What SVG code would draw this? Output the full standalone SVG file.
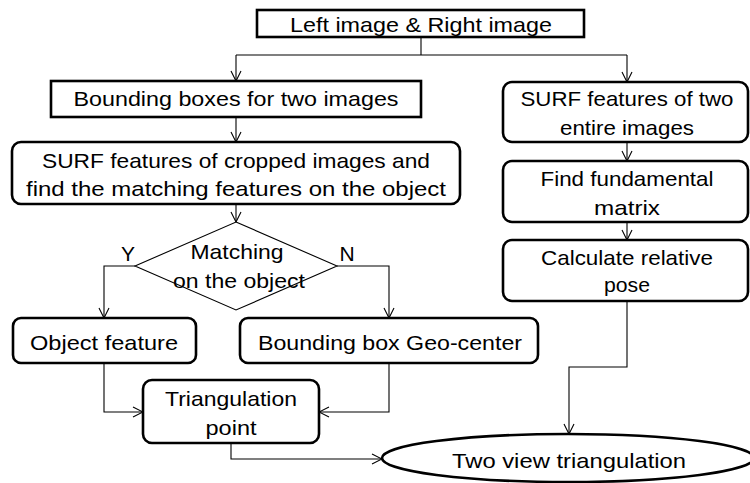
<svg xmlns="http://www.w3.org/2000/svg" width="750" height="483" viewBox="0 0 750 483">
  <defs>
    <marker id="arrow" viewBox="0 0 12 12" refX="11" refY="6" markerWidth="12" markerHeight="12" markerUnits="userSpaceOnUse" orient="auto">
      <path d="M1,1 L11,6 L1,11" fill="none" stroke="#000" stroke-width="1.1"/>
    </marker>
    <style>
      .box { fill: #fff; stroke: #000; stroke-width: 2.6; }
      .edge { fill: none; stroke: #000; stroke-width: 1.1; }
      .arr { marker-end: url(#arrow); }
      text { font-family: "Liberation Sans", Arial, sans-serif; font-size: 21px; fill: #000; text-anchor: middle; }
    </style>
  </defs>

  <!-- connectors -->
  <g id="connectors">
    <path class="edge" d="M421,37 V55 M236,55 H627"/>
    <path class="edge arr" d="M236,55 V81"/>
    <path class="edge arr" d="M627,55 V82"/>
    <path class="edge arr" d="M236,117 V142"/>
    <path class="edge arr" d="M236,204 V222"/>
    <path class="edge arr" d="M135,266 H104 V318"/>
    <path class="edge arr" d="M337,266 H389 V318"/>
    <path class="edge arr" d="M104,363 V412 H143"/>
    <path class="edge arr" d="M389,363 V412 H319"/>
    <path class="edge arr" d="M231,443 V459 H382"/>
    <path class="edge arr" d="M627,142 V161"/>
    <path class="edge arr" d="M627,222 V240"/>
    <path class="edge arr" d="M627,301 V367 H569 V434"/>
  </g>

  <g id="input">
    <rect class="box" x="257" y="10" width="327" height="27"/>
    <text x="421" y="32" textLength="262" lengthAdjust="spacingAndGlyphs">Left image &amp; Right image</text>
  </g>

  <g id="bbox">
    <rect class="box" x="51" y="81" width="370" height="36"/>
    <text x="236" y="106" textLength="325" lengthAdjust="spacingAndGlyphs">Bounding boxes for two images</text>
  </g>

  <g id="surf-cropped">
    <rect class="box" x="12" y="142" width="448" height="62" rx="9"/>
    <text x="236" y="168" textLength="388" lengthAdjust="spacingAndGlyphs">SURF features of cropped images and</text>
    <text x="236" y="196" textLength="420" lengthAdjust="spacingAndGlyphs">find the matching features on the object</text>
  </g>

  <g id="decision">
    <polygon points="236,222 337,266 236,310 135,266" fill="#fff" stroke="#000" stroke-width="1.1"/>
    <text x="237" y="259" textLength="93" lengthAdjust="spacingAndGlyphs">Matching</text>
    <text x="239" y="288" textLength="132" lengthAdjust="spacingAndGlyphs">on the object</text>
    <text x="128" y="261">Y</text>
    <text x="347" y="261">N</text>
  </g>

  <g id="object-feature">
    <rect class="box" x="13" y="318" width="183" height="45" rx="8"/>
    <text x="104" y="350" textLength="148" lengthAdjust="spacingAndGlyphs">Object feature</text>
  </g>

  <g id="geo-center">
    <rect class="box" x="240" y="318" width="298" height="45" rx="8"/>
    <text x="390" y="350" textLength="264" lengthAdjust="spacingAndGlyphs">Bounding box Geo-center</text>
  </g>

  <g id="triangulation-point">
    <rect class="box" x="143" y="380" width="176" height="63" rx="9"/>
    <text x="231" y="406" textLength="132" lengthAdjust="spacingAndGlyphs">Triangulation</text>
    <text x="231" y="435" textLength="51" lengthAdjust="spacingAndGlyphs">point</text>
  </g>

  <g id="surf-entire">
    <rect class="box" x="503" y="82" width="245" height="60" rx="9"/>
    <text x="627" y="106" textLength="213" lengthAdjust="spacingAndGlyphs">SURF features of two</text>
    <text x="627" y="135" textLength="134" lengthAdjust="spacingAndGlyphs">entire images</text>
  </g>

  <g id="fundamental">
    <rect class="box" x="503" y="161" width="245" height="61" rx="9"/>
    <text x="627" y="186" textLength="173" lengthAdjust="spacingAndGlyphs">Find fundamental</text>
    <text x="627" y="215" textLength="66" lengthAdjust="spacingAndGlyphs">matrix</text>
  </g>

  <g id="relative-pose">
    <rect class="box" x="503" y="240" width="245" height="61" rx="9"/>
    <text x="627" y="265" textLength="172" lengthAdjust="spacingAndGlyphs">Calculate relative</text>
    <text x="627" y="292" textLength="46" lengthAdjust="spacingAndGlyphs">pose</text>
  </g>

  <g id="two-view">
    <ellipse class="box" cx="568" cy="458" rx="186" ry="24"/>
    <text x="569" y="468" textLength="234" lengthAdjust="spacingAndGlyphs">Two view triangulation</text>
  </g>
</svg>
